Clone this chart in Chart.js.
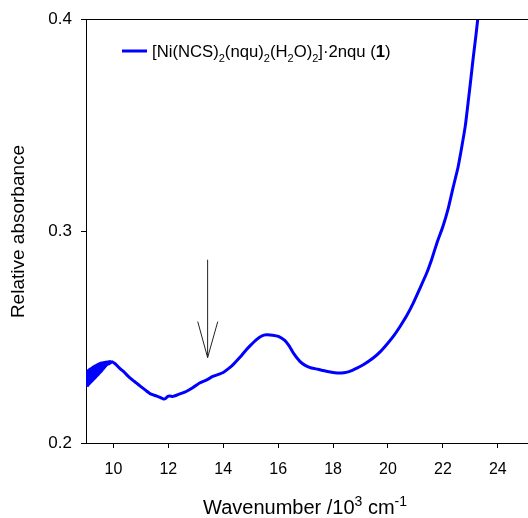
<!DOCTYPE html>
<html>
<head>
<meta charset="utf-8">
<script src="https://cdn.jsdelivr.net/npm/chart.js@4/dist/chart.umd.min.js"></script>
<style>
html,body{margin:0;padding:0;background:#fff;}
#wrap{width:528px;height:518px;}
</style>
</head>
<body>
<div id="wrap"><canvas id="c" width="528" height="518"></canvas></div>
<script>
// ---- data ----
const wavenumber = [9.050,9.060,9.072,9.085,9.098,9.110,9.125,9.140,9.155,9.170,9.185,9.200,9.215,9.230,9.245,9.260,9.275,9.290,9.305,9.320,
  9.335,9.350,9.365,9.380,9.395,9.410,9.425,9.440,9.455,9.470,9.485,9.500,9.515,9.530,9.545,9.560,9.575,9.590,9.610,9.630,
  9.650,9.670,9.690,9.710,9.735,9.760,9.785,9.810,9.840,9.870,9.900,9.950,
  10.05,10.15,10.25,10.40,10.55,10.70,10.83,11.00,11.19,11.35,11.56,11.70,11.82,11.90,11.97,12.05,12.17,12.35,12.50,12.65,12.90,
  13.14,13.40,13.62,13.85,14.00,14.20,14.35,14.60,14.84,15.00,15.20,15.40,15.57,15.80,16.01,16.24,16.40,16.55,16.79,17.00,17.21,
  17.45,17.64,17.90,18.19,18.40,18.61,18.85,19.10,19.46,19.75,20.00,20.22,20.44,20.70,20.92,21.15,21.41,21.60,21.78,22.00,22.20,
  22.38,22.55,22.69,22.82,22.93,23.02,23.11,23.20,23.27];
const absorbance = [0.2268,0.2340,0.2272,0.2342,0.2276,0.2345,0.2280,0.2348,0.2284,0.2350,0.2288,0.2352,0.2292,0.2355,0.2296,0.2358,0.2300,0.2360,0.2304,0.2363,
  0.2308,0.2365,0.2312,0.2367,0.2316,0.2369,0.2320,0.2371,0.2324,0.2373,0.2328,0.2375,0.2332,0.2376,0.2336,0.2377,0.2340,0.2378,0.2346,0.2379,
  0.2352,0.2380,0.2358,0.2381,0.2364,0.2382,0.2370,0.2383,0.2374,0.2384,0.2378,0.2384,
  0.2375,0.2363,0.2350,0.2333,0.2313,0.2297,0.2284,0.2266,0.2247,0.2232,0.2222,0.2215,0.2208,0.2210,0.2219,0.2222,0.2220,0.2228,0.2235,0.2243,0.2262,
  0.2283,0.2298,0.2314,0.2325,0.2333,0.2352,0.2369,0.2403,0.2440,0.2462,0.2487,0.2505,0.2511,0.2509,0.2503,0.2484,0.2458,0.2425,0.2385,0.2365,0.2354,
  0.2348,0.2342,0.2335,0.2330,0.2332,0.2338,0.2352,0.2369,0.2401,0.2435,0.2472,0.2508,0.2550,0.2605,0.2660,0.2726,0.2802,0.2870,0.2943,0.3022,0.3110,
  0.3210,0.3300,0.3399,0.3500,0.3619,0.3720,0.3824,0.3920,0.4000];
const xTicks = [10,12,14,16,18,20,22,24];
const yTicks = [0.2,0.3,0.4];
const xRange = [9.0, 25.1];
const yRange = [0.2, 0.4];
// arrow marking the shoulder
const arrowX = 13.43, arrowTop = 0.2865, arrowTip = 0.2403;
const arrowWingX = [13.07, 13.80], arrowWingY = 0.2573;
const seriesLabel = "[Ni(NCS)2(nqu)2(H2O)2]·2nqu (1)";

const FONT = '"Liberation Sans", Arial, sans-serif';
const points = wavenumber.map((x,i)=>({x:x,y:absorbance[i]}));

function drawSegments(ctx, segs, x, y, size){
  let cx = x;
  for (const [t,k] of segs){
    let fs = size, dy = 0, w = 'normal';
    if (k==='sub'){ fs = Math.round(size*0.68); dy = size*0.3; }
    if (k==='sup'){ fs = Math.round(size*0.68); dy = -size*0.42; }
    if (k==='b'){ w = 'bold'; }
    ctx.font = w + ' ' + fs + 'px ' + FONT;
    ctx.fillText(t, cx, y+dy);
    cx += ctx.measureText(t).width;
  }
  return cx - x;
}
function segWidth(ctx, segs, size){
  let w=0;
  for (const [t,k] of segs){
    let fs=size, wt='normal';
    if (k==='sub'||k==='sup') fs=Math.round(size*0.68);
    if (k==='b') wt='bold';
    ctx.font = wt+' '+fs+'px '+FONT;
    w += ctx.measureText(t).width;
  }
  return w;
}

const decor = {
  id:'decor',
  afterDraw(chart){
    const ctx = chart.ctx, xs = chart.scales.x, ys = chart.scales.y, a = chart.chartArea;
    ctx.save();
    ctx.strokeStyle='#000'; ctx.lineWidth=1;
    ctx.beginPath(); ctx.moveTo(a.left, Math.round(a.top)+0.5); ctx.lineTo(chart.width, Math.round(a.top)+0.5); ctx.stroke();
    // arrow
    const ax = xs.getPixelForValue(arrowX);
    ctx.strokeStyle='#222'; ctx.lineWidth=1;
    ctx.beginPath();
    ctx.moveTo(ax, ys.getPixelForValue(arrowTop));
    ctx.lineTo(ax, ys.getPixelForValue(arrowTip));
    ctx.moveTo(xs.getPixelForValue(arrowWingX[0]), ys.getPixelForValue(arrowWingY));
    ctx.lineTo(ax, ys.getPixelForValue(arrowTip));
    ctx.lineTo(xs.getPixelForValue(arrowWingX[1]), ys.getPixelForValue(arrowWingY));
    ctx.stroke();
    // legend
    ctx.fillStyle='#000'; ctx.textBaseline='alphabetic'; ctx.textAlign='left';
    ctx.strokeStyle='#0000ff'; ctx.lineWidth=3;
    ctx.beginPath(); ctx.moveTo(122,51); ctx.lineTo(147,51); ctx.stroke();
    const legSegs = [["[Ni(NCS)",'n'],["2",'sub'],["(nqu)",'n'],["2",'sub'],["(H",'n'],["2",'sub'],["O)",'n'],["2",'sub'],["]·2nqu (",'n'],["1",'b'],[")",'n']];
    drawSegments(ctx, legSegs, 152, 57, 16.7);
    // x title
    const xt = [["Wavenumber /10",'n'],["3",'sup'],[" cm",'n'],["-1",'sup']];
    const w = segWidth(ctx, xt, 20);
    drawSegments(ctx, xt, 305 - w/2, 514, 20);
    // y title
    ctx.translate(24, 231.5); ctx.rotate(-Math.PI/2);
    ctx.textAlign='center'; ctx.font='19px '+FONT;
    ctx.fillText('Relative absorbance', 0, 0);
    ctx.restore();
  }
};

new Chart(document.getElementById('c'), {
  type:'line',
  data:{ datasets:[{ label: seriesLabel, data: points, borderColor:'#0000ff', borderWidth:3, pointRadius:0, tension:0.15, fill:false }]},
  options:{
    responsive:false, animation:false,
    layout:{ padding:{ top:19, right:0, bottom:0, left:0 } },
    plugins:{ legend:{display:false}, tooltip:{enabled:false} },
    scales:{
      x:{ type:'linear', min:xRange[0], max:xRange[1],
        afterBuildTicks(s){ s.ticks = xTicks.map(v=>({value:v})); },
        afterFit(s){ s.height = 75; },
        grid:{ display:true, drawOnChartArea:false, drawTicks:true, tickLength:5, color:'#000' },
        border:{ display:true, color:'#000', width:1 },
        ticks:{ color:'#000', font:{ size:16, family:FONT }, padding:12, maxRotation:0, callback:(v)=>String(v) }
      },
      y:{ type:'linear', min:yRange[0], max:yRange[1],
        afterBuildTicks(s){ s.ticks = yTicks.map(v=>({value:v})); },
        afterFit(s){ s.width = 86; },
        grid:{ display:true, drawOnChartArea:false, drawTicks:true, tickLength:5, color:'#000' },
        border:{ display:true, color:'#000', width:1 },
        ticks:{ color:'#000', font:{ size:17, family:FONT }, padding:9, callback:(v)=>v.toFixed(1) }
      }
    }
  },
  plugins:[decor]
});
</script>
</body>
</html>
